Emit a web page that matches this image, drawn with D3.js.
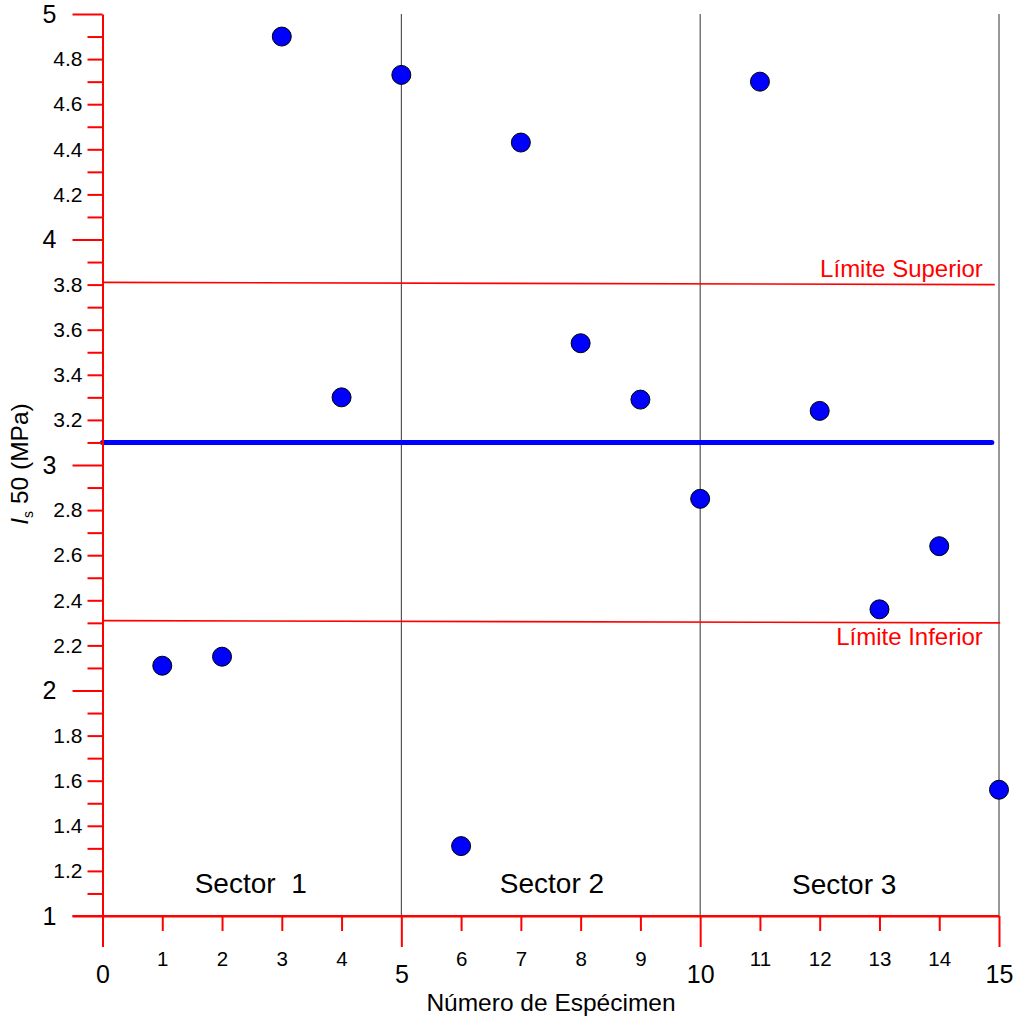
<!DOCTYPE html>
<html>
<head>
<meta charset="utf-8">
<script src="https://cdn.jsdelivr.net/npm/d3@7"></script>
<style>
  body { margin: 0; background: #fff; }
  svg { display: block; font-family: "Liberation Sans", Arial, sans-serif; }
</style>
</head>
<body>
<div id="chart"></div>
<script>
// specimen number and Is50 values (MPa)
var specimens = [1, 2, 3, 4, 5, 6, 7, 8, 9, 10, 11, 12, 13, 14, 15];
var is50 = [2.11, 2.15, 4.90, 3.30, 4.73, 1.31, 4.43, 3.54, 3.29, 2.85, 4.70, 3.24, 2.36, 2.64, 1.56];

// reference lines: [x start, x end] and [y start, y end]
var meanX = [0, 14.88];
var meanY = [3.1, 3.1];
var supX = [0, 14.93];
var supY = [3.81, 3.80];
var infX = [0, 15.02];
var infY = [2.31, 2.30];

// sector separators and labels
var dividers = [5, 10, 15];
var sectorNames = ["Sector  1", "Sector 2", "Sector 3"];
var sectorCenters = [2.48, 7.52, 12.41];

// ticks
var xMajorTicks = [0, 5, 10, 15];
var xMinorTicks = [1, 2, 3, 4, 6, 7, 8, 9, 11, 12, 13, 14];
var yMajorTicks = [1, 2, 3, 4, 5];
var yMinorTicks = [1.1, 1.2, 1.3, 1.4, 1.5, 1.6, 1.7, 1.8, 1.9,
                   2.1, 2.2, 2.3, 2.4, 2.5, 2.6, 2.7, 2.8, 2.9,
                   3.1, 3.2, 3.3, 3.4, 3.5, 3.6, 3.7, 3.8, 3.9,
                   4.1, 4.2, 4.3, 4.4, 4.5, 4.6, 4.7, 4.8, 4.9];
var yMinorLabels = [1.2, 1.4, 1.6, 1.8, 2.2, 2.4, 2.6, 2.8, 3.2, 3.4, 3.6, 3.8, 4.2, 4.4, 4.6, 4.8];

var width = 1018, height = 1019;
var red = "#ff0000";

var svg = d3.select("#chart").append("svg")
  .attr("width", width)
  .attr("height", height);

var x = d3.scaleLinear().domain([0, 15]).range([102.5, 999]);
var y = d3.scaleLinear().domain([1, 5]).range([916, 14]);

// sector dividers
svg.selectAll(".divider")
  .data(dividers)
  .enter().append("line")
    .attr("class", "divider")
    .attr("x1", d => x(d)).attr("x2", d => x(d))
    .attr("y1", y(5)).attr("y2", y(1))
    .attr("stroke", "#333")
    .attr("stroke-width", 1);

// limit lines
var limits = [
  {xs: supX, ys: supY, name: "Límite Superior", dy: -8},
  {xs: infX, ys: infY, name: "Límite Inferior", dy: 22}
];
svg.selectAll(".limit")
  .data(limits)
  .enter().append("line")
    .attr("class", "limit")
    .attr("x1", d => x(d.xs[0])).attr("x2", d => x(d.xs[1]))
    .attr("y1", d => y(d.ys[0])).attr("y2", d => y(d.ys[1]))
    .attr("stroke", red)
    .attr("stroke-width", 1.6);

svg.selectAll(".limit-label")
  .data(limits)
  .enter().append("text")
    .attr("class", "limit-label")
    .attr("x", x(14.73))
    .attr("y", d => y(d.ys[1]) + d.dy)
    .attr("text-anchor", "end")
    .attr("fill", red)
    .attr("font-size", "24px")
    .text(d => d.name);

// mean line
svg.append("line")
  .attr("x1", x(meanX[0])).attr("x2", x(meanX[1]))
  .attr("y1", y(meanY[0])).attr("y2", y(meanY[1]))
  .attr("stroke", "#0000ff")
  .attr("stroke-width", 5)
  .attr("stroke-linecap", "round");

// axes
function styleAxis(g) {
  g.selectAll("path, line").attr("stroke", red).attr("stroke-width", 2);
  g.selectAll("text").attr("fill", "#000").attr("font-family", "Liberation Sans, Arial, sans-serif");
}

var yMinor = svg.append("g")
  .attr("transform", "translate(" + x(0) + ",0)")
  .call(d3.axisLeft(y).tickValues(yMinorTicks).tickSize(15).tickSizeOuter(0).tickPadding(5)
    .tickFormat(d => yMinorLabels.indexOf(d) >= 0 ? d : ""));
yMinor.call(styleAxis);
yMinor.selectAll("text").attr("font-size", "21px");

var yMajor = svg.append("g")
  .attr("transform", "translate(" + x(0) + ",0)")
  .call(d3.axisLeft(y).tickValues(yMajorTicks).tickSize(30).tickSizeOuter(0).tickPadding(16)
    .tickFormat(d3.format("d")));
yMajor.call(styleAxis);
yMajor.select(".domain").remove();
yMajor.selectAll("text").attr("font-size", "25px");

var xMinor = svg.append("g")
  .attr("transform", "translate(0," + y(1) + ")")
  .call(d3.axisBottom(x).tickValues(xMinorTicks).tickSize(15).tickSizeOuter(0).tickPadding(20));
xMinor.call(styleAxis);
xMinor.selectAll("text").attr("font-size", "20.5px");

var xMajor = svg.append("g")
  .attr("transform", "translate(0," + y(1) + ")")
  .call(d3.axisBottom(x).tickValues(xMajorTicks).tickSize(31).tickSizeOuter(0).tickPadding(18));
xMajor.call(styleAxis);
xMajor.select(".domain").remove();
xMajor.selectAll("text").attr("font-size", "25px");

// extend x axis line left to meet the y major tick
svg.append("line")
  .attr("x1", x(0) - 30).attr("x2", x(15))
  .attr("y1", y(1)).attr("y2", y(1))
  .attr("stroke", red).attr("stroke-width", 2);

// sector labels
svg.selectAll(".sector")
  .data(sectorNames)
  .enter().append("text")
    .attr("class", "sector")
    .attr("x", (d, i) => x(sectorCenters[i]))
    .attr("y", (d, i) => i == 2 ? 894 : 893)
    .attr("text-anchor", "middle")
    .attr("font-size", "28px")
    .attr("fill", "#000")
    .style("white-space", "pre")
    .text(d => d);

// points
svg.selectAll(".dot")
  .data(specimens)
  .enter().append("circle")
    .attr("class", "dot")
    .attr("cx", d => x(d))
    .attr("cy", (d, i) => y(is50[i]))
    .attr("r", 9.5)
    .attr("fill", "#0000ff")
    .attr("stroke", "#000")
    .attr("stroke-width", 1);

// axis titles
svg.append("text")
  .attr("x", 551)
  .attr("y", 1011)
  .attr("text-anchor", "middle")
  .attr("font-size", "24.5px")
  .attr("fill", "#000")
  .text("Número de Espécimen");

var yt = svg.append("text")
  .attr("transform", "translate(28,464) rotate(-90)")
  .attr("text-anchor", "middle")
  .attr("font-size", "24.5px")
  .attr("fill", "#000");
yt.append("tspan").attr("font-style", "italic").text("I");
yt.append("tspan").attr("font-size", "14px").attr("dy", 5).text("s");
yt.append("tspan").attr("dy", -5).text(" 50 (MPa)");
</script>
</body>
</html>
